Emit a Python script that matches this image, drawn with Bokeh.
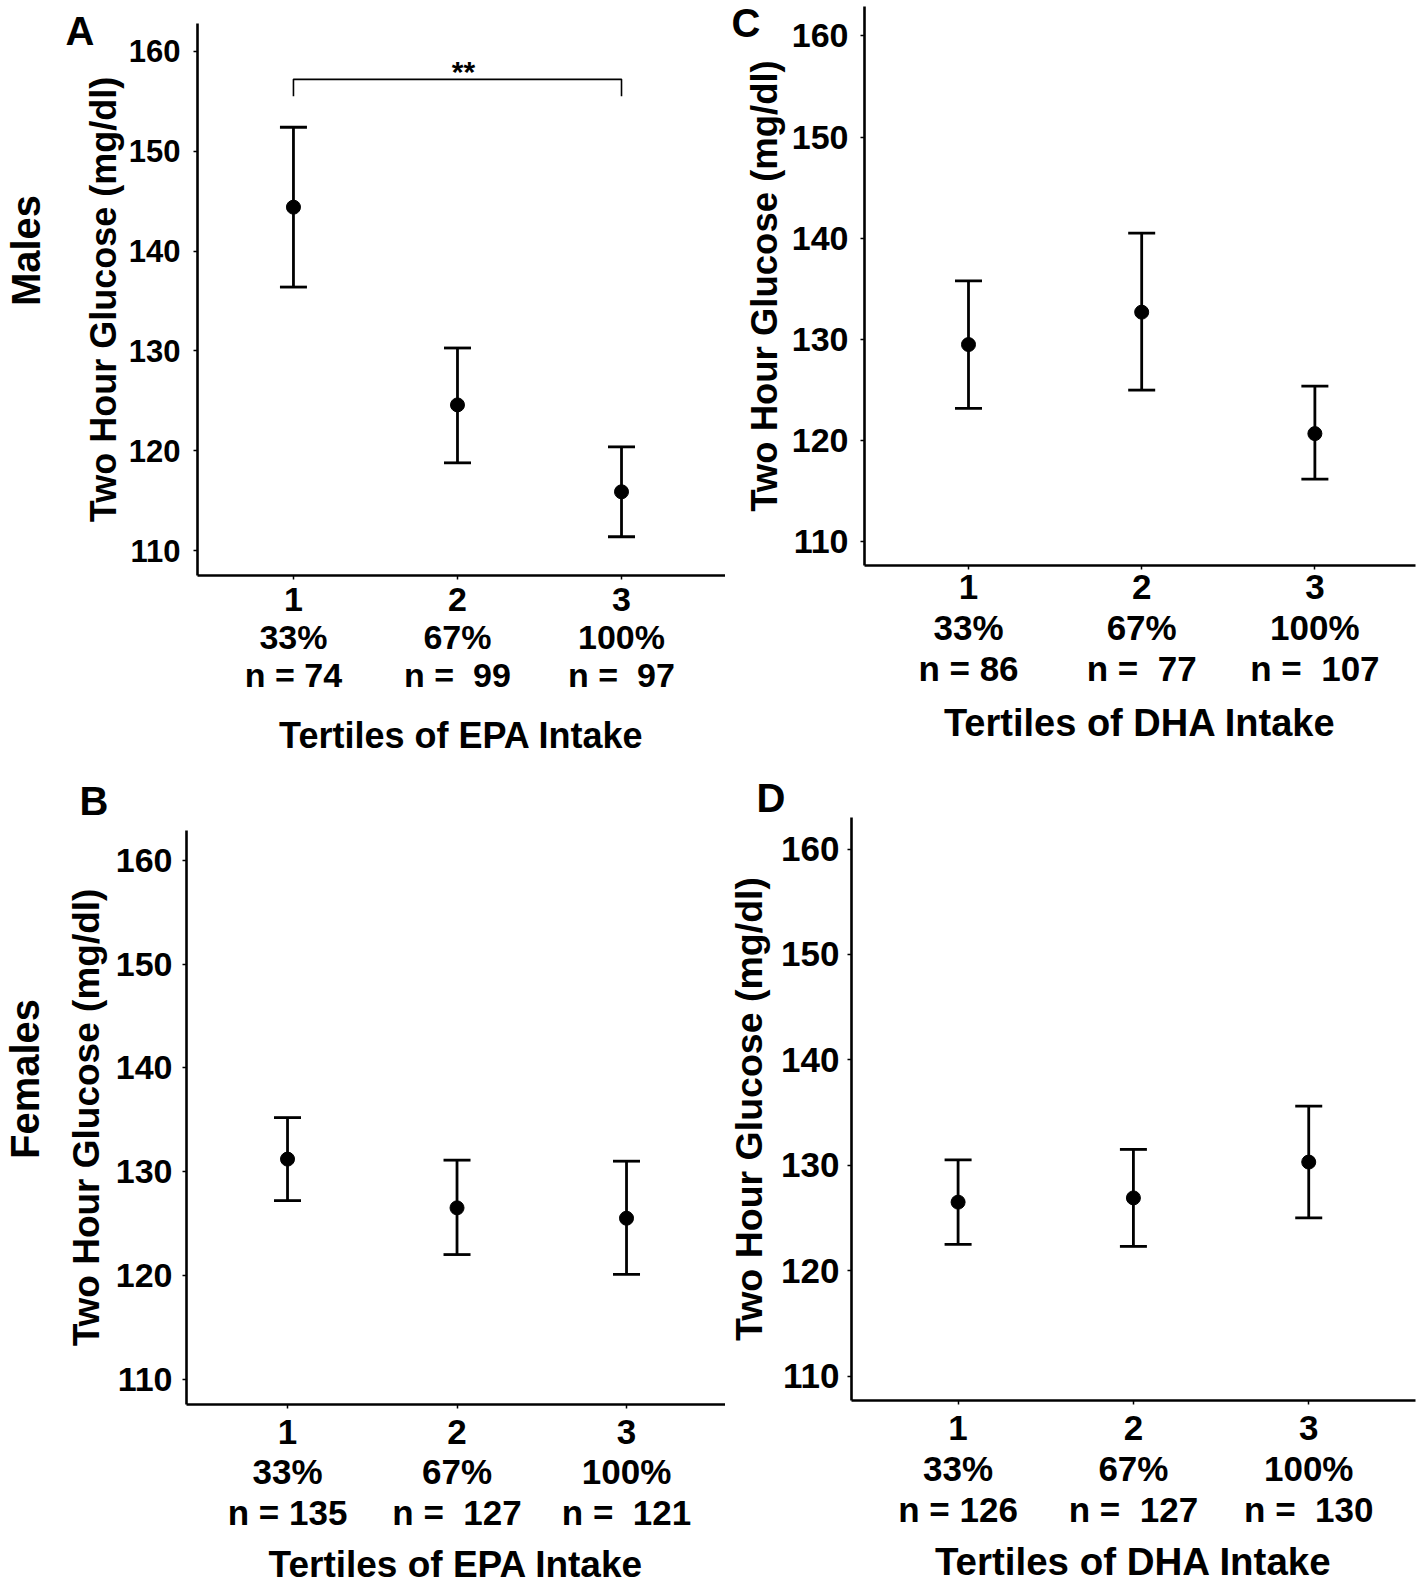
from bokeh.plotting import figure
from bokeh.layouts import column, row
from bokeh.models import (ColumnDataSource, Whisker, TeeHead, FixedTicker, Label,
                          Range1d, LinearAxis)
from bokeh.embed import file_html
from bokeh.resources import INLINE

# ---------------- data ----------------
tertiles = [1, 2, 3]
tertile_pct = ["33%", "67%", "100%"]
y_ticks = [110, 120, 130, 140, 150, 160]

# A: Males, EPA
a_mean = [144.4, 124.6, 115.9]
a_lower = [136.4, 118.8, 111.4]
a_upper = [152.4, 130.3, 120.4]
a_n = ["74", "\u00a099", "\u00a097"]

# C: Males, DHA
c_mean = [129.5, 132.7, 120.7]
c_lower = [123.2, 125.0, 116.2]
c_upper = [135.8, 140.5, 125.4]
c_n = ["86", "\u00a077", "\u00a0107"]

# B: Females, EPA
b_mean = [131.2, 126.5, 125.5]
b_lower = [127.2, 122.0, 120.1]
b_upper = [135.2, 131.1, 131.0]
b_n = ["135", "\u00a0127", "\u00a0121"]

# D: Females, DHA
d_mean = [126.5, 126.9, 130.3]
d_lower = [122.5, 122.3, 125.0]
d_upper = [130.5, 131.5, 135.6]
d_n = ["126", "\u00a0127", "\u00a0130"]

# significance bracket in A (tertile 1 vs 3)
bracket_x = [1, 1, 3, 3]
bracket_y = [155.5, 157.2, 157.2, 155.5]
bracket_text = "**"

y_title = "Two Hour Glucose (mg/dl)"
FONT = "Liberation Sans"
LW = 2.8


def bold(obj, prefix, size):
    setattr(obj, prefix + "text_font", FONT)
    setattr(obj, prefix + "text_font_style", "bold")
    setattr(obj, prefix + "text_font_size", f"{size}px")
    setattr(obj, prefix + "text_color", "black")


def make_panel(mean, lower, upper, ns, xtitle, w, h, bl, br, bt, bb, xr, yr,
               ytick_fs, xtick_fs, ytitle_fs, xtitle_fs, line_h,
               ytick_standoff, ytitle_standoff, xtick_standoff, xtitle_standoff):
    p = figure(width=w, height=h, output_backend="svg", toolbar_location=None,
               x_range=Range1d(*xr), y_range=Range1d(*yr),
               min_border_left=bl, min_border_right=br, min_border_top=bt,
               min_border_bottom=bb)
    p.outline_line_color = None
    p.xgrid.visible = False
    p.ygrid.visible = False
    p.background_fill_color = "white"
    p.border_fill_color = "white"

    src = ColumnDataSource(dict(x=tertiles, mean=mean, lower=lower, upper=upper))
    wh = Whisker(source=src, base="x", lower="lower", upper="upper",
                 dimension="height", line_width=LW, line_color="black",
                 upper_head=TeeHead(size=27, line_width=LW, line_color="black"),
                 lower_head=TeeHead(size=27, line_width=LW, line_color="black"))
    p.add_layout(wh)
    p.scatter("x", "mean", source=src, size=14, color="black")

    for ax in (p.xaxis[0], p.yaxis[0]):
        ax.axis_line_width = 2.6
        ax.axis_line_color = "black"
        ax.major_tick_line_width = 1.5
        ax.major_tick_line_color = "black"
        ax.major_tick_in = 0
        ax.major_tick_out = 4
        ax.minor_tick_line_color = None

    yax = p.yaxis[0]
    yax.ticker = FixedTicker(ticks=y_ticks)
    bold(yax, "major_label_", ytick_fs)
    yax.major_label_standoff = ytick_standoff
    yax.axis_label = y_title
    bold(yax, "axis_label_", ytitle_fs)
    yax.axis_label_standoff = ytitle_standoff

    xax = p.xaxis[0]
    xax.ticker = FixedTicker(ticks=tertiles)
    xax.major_label_overrides = {
        t: f"{t}\n{pc}\nn = {n}" for t, pc, n in zip(tertiles, tertile_pct, ns)
    }
    bold(xax, "major_label_", xtick_fs)
    xax.major_label_text_line_height = line_h
    xax.major_label_standoff = xtick_standoff
    xax.axis_label = xtitle
    bold(xax, "axis_label_", xtitle_fs)
    xax.axis_label_standoff = xtitle_standoff
    return p


def text_axis(p, text, y_at, standoff, orientation="horizontal"):
    # an extra left axis, without line or ticks, whose single tick label carries a text
    ax = LinearAxis(ticker=FixedTicker(ticks=[y_at]),
                    major_label_overrides={y_at: text},
                    major_label_orientation=orientation)
    ax.axis_line_color = None
    ax.major_tick_line_color = None
    ax.minor_tick_line_color = None
    ax.major_tick_out = 0
    ax.major_tick_in = 0
    ax.major_label_standoff = standoff
    bold(ax, "major_label_", 40)
    p.add_layout(ax, "left")


pA = make_panel(a_mean, a_lower, a_upper, a_n, "Tertiles of EPA Intake",
                725, 770, 197, 0, 23, 195, (0.415, 3.634), (107.52, 162.79),
                31, 34, 36, 36, 1.01, 13, 2, 0, 18)
pC = make_panel(c_mean, c_lower, c_upper, c_n, "Tertiles of DHA Intake",
                694, 770, 139, 4, 6, 205, (0.3995, 3.581), (107.67, 162.9),
                34, 35, 36.5, 38, 1.06, 12, 4, -3, 11)
pB = make_panel(b_mean, b_lower, b_upper, b_n, "Tertiles of EPA Intake",
                725, 817, 186, 0, 60, 183, (0.404, 3.584), (107.55, 162.87),
                34, 35, 37, 37, 1.04, 10, 6, 3, 9)
pD = make_panel(d_mean, d_lower, d_upper, d_n, "Tertiles of DHA Intake",
                694, 817, 125, 4, 47, 187, (0.392, 3.609), (107.68, 162.99),
                35, 35, 37.5, 38.5, 1.06, 8, 8, 3, 8)

# panel letters
text_axis(pA, "A", 162.0, -15)
text_axis(pC, "C", 161.37, -20)
pB.title.vertical_align = "middle"
for p, letter, off, so in ((pB, "B", -107, 14), (pD, "D", -95, -4)):
    p.title.text = letter
    p.title.align = "left"
    p.title.offset = off
    p.title.standoff = so
    bold(p.title, "", 40)

# row labels
text_axis(pA, "Males", 140.06, 14, "vertical")
text_axis(pB, "Females", 138.92, 15, "vertical")

# significance bracket
pA.line(bracket_x, bracket_y, line_width=1.6, line_color="black")
pA.add_layout(Label(x=2, y=bracket_y[1], text=bracket_text, text_font=FONT,
                    text_font_style="bold", text_font_size="30px", text_align="center",
                    text_baseline="alphabetic", x_offset=6, y_offset=8, text_color="black"))

layout = column(row(column(pA), column(pC)), row(column(pB), column(pD)))
open("out.html", "w").write(file_html(layout, INLINE))
